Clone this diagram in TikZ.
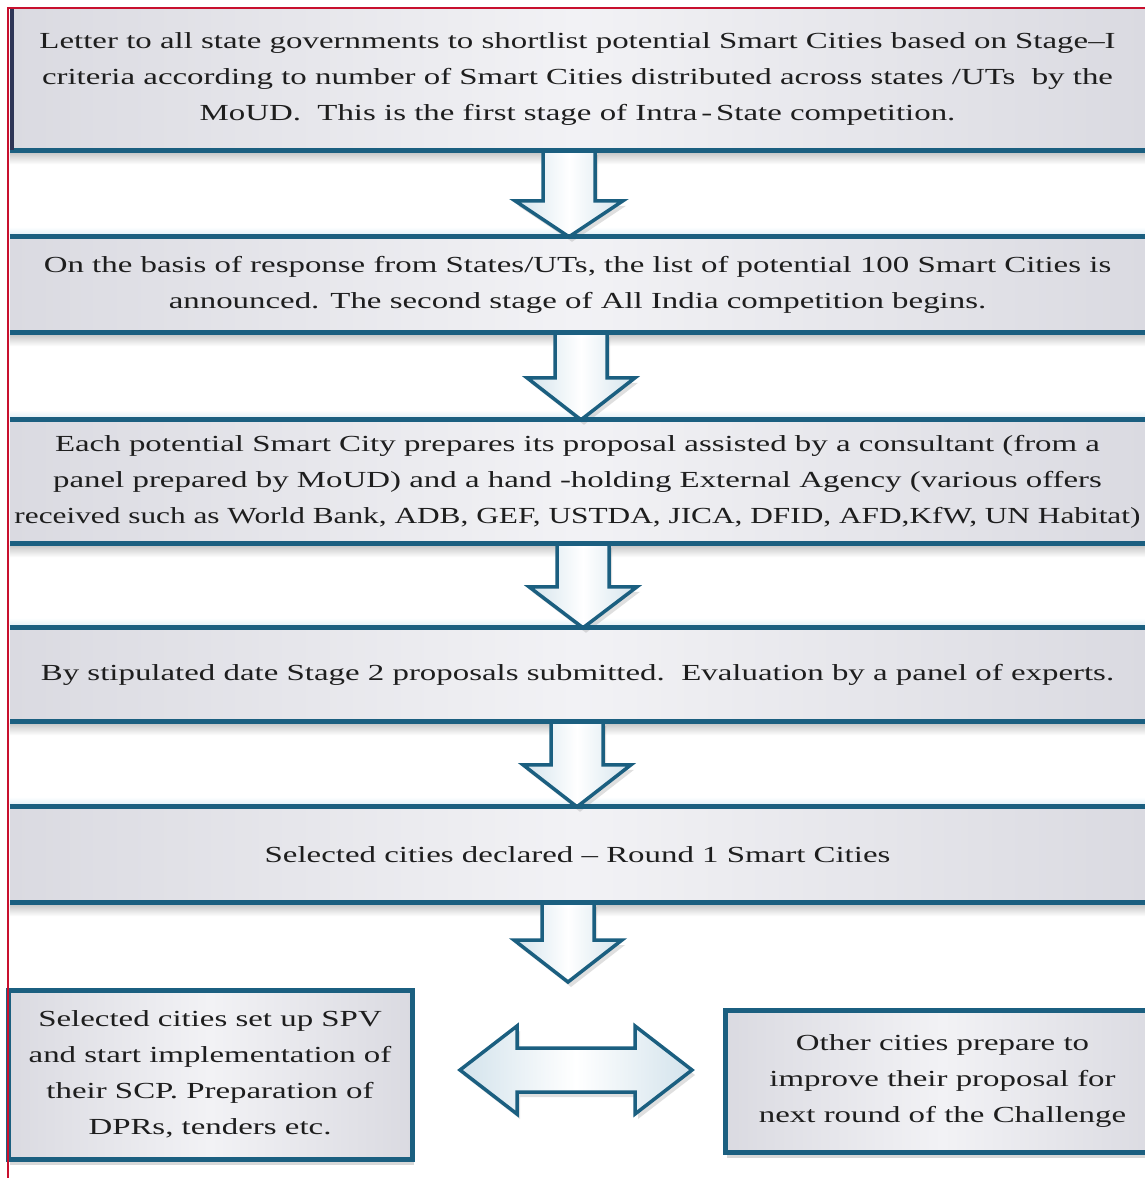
\documentclass[tikz,border=0pt]{standalone}
\usepackage{graphicx}
\usepackage{fontspec}
\setmainfont[FakeStretch=1.43]{Liberation Serif}
\usetikzlibrary{calc,shadows}
\definecolor{teal1}{HTML}{1B5F80}
\definecolor{redline}{HTML}{C8102E}
\definecolor{boxedge}{HTML}{DADAE1}
\definecolor{boxmid}{HTML}{F2F2F5}
\definecolor{txt}{HTML}{1E1E1E}
\definecolor{arrowedge}{HTML}{D3E3EC}
\definecolor{navy}{HTML}{2E3556}
\definecolor{glowblue}{HTML}{E2F0F7}
\tikzset{
  stagebox/.style={rectangle, inner sep=0pt, minimum width=1135pt,
    left color=boxedge, right color=boxedge, middle color=boxmid,
    text=txt, align=center, font=\fontsize{23}{36}\selectfont},
  sidebox/.style={stagebox, draw=teal1, line width=5pt,
    drop shadow={opacity=0.3, shadow xshift=2pt, shadow yshift=-6pt}},
  boxline/.style={teal1, line width=5pt},
  arrowbody/.style={left color=arrowedge, right color=arrowedge, middle color=white,
    drop shadow={opacity=0.25, shadow xshift=3pt, shadow yshift=-5pt}},
  arrowline/.style={teal1, line width=3.5pt, line join=miter},
  underglow/.style={top color=gray!45, bottom color=white},
  overglow/.style={top color=white, bottom color=glowblue},
}
\newcommand\blockdown[3]{% #1 start coordinate, #2 tip coordinate, #3 head length
  \path[arrowbody] ($(#1)+(-26,0)$) -- ($(#2)+(-26,-#3)$) -- ($(#2)+(-54,-#3)$) -- (#2)
    -- ($(#2)+(54,-#3)$) -- ($(#2)+(26,-#3)$) -- ($(#1)+(26,0)$) -- cycle;
  \draw[arrowline] ($(#1)+(-26,0)$) -- ($(#2)+(-26,-#3)$) -- ($(#2)+(-54,-#3)$) -- (#2)
    -- ($(#2)+(54,-#3)$) -- ($(#2)+(26,-#3)$) -- ($(#1)+(26,0)$);
}
\begin{document}
\begin{tikzpicture}[x=1pt,y=-1pt]
\useasboundingbox[fill=white] (0,0) rectangle (1145,1178);

% stage boxes
\node[stagebox, minimum height=142pt] (b1) at (577.5,79)
  {Letter to all state governments to shortlist potential Smart Cities based on Stage–I\\
   criteria according to number of Smart Cities distributed across states /UTs\ \ by the\\
   MoUD.\ \ This is the first stage of Intra\,-\,State competition.};
\node[stagebox, minimum height=95pt] (b2) at (577.5,284.5)
  {On the basis of response from States/UTs, the list of potential 100 Smart Cities is\\
   announced. The second stage of All India competition begins.};
\node[stagebox, minimum height=123pt] (b3) at (577.5,481.5)
  {Each potential Smart City prepares its proposal assisted by a consultant (from a\\
   panel prepared by MoUD) and a hand -holding External Agency (various offers\\
   \makebox[1100pt]{\scalebox{0.952}[1]{received such as World Bank, ADB, GEF, USTDA, JICA, DFID, AFD,KfW, UN Habitat)}}};
\node[stagebox, minimum height=93pt] (b4) at (577.5,674.5)
  {By stipulated date Stage 2 proposals submitted.\ \ Evaluation by a panel of experts.};
\node[stagebox, minimum height=95pt] (b5) at (577.5,854.5)
  {Selected cities declared – Round 1 Smart Cities};
\node[sidebox, minimum width=404pt, minimum height=169pt] (b6) at (210,1074.5)
  {Selected cities set up SPV\\and start implementation of\\their SCP. Preparation of\\DPRs, tenders etc.};
\node[sidebox, minimum width=435pt, minimum height=142pt] (b7) at (942.5,1081)
  {Other cities prepare to\\improve their proposal for\\next round of the Challenge};

% shadows under and glow over the band lines
\foreach \b in {b1,b2,b3,b4,b5}{
  \shade[underglow] ($(\b.south west)+(0,2)$) rectangle ($(\b.south east)+(10,14)$);
}
\foreach \b in {b2,b3,b4,b5}{
  \shade[overglow] ($(\b.north west)+(0,-10)$) rectangle ($(\b.north east)+(10,-2)$);
}

% arrows between the stages
\coordinate (a1s) at ($(b1.south)+(-8.5,0)$);  \coordinate (a1t) at ($(b2.north)+(-8.5,0)$);
\coordinate (a2s) at ($(b2.south)+(3.5,0)$);   \coordinate (a2t) at ($(b3.north)+(3.5,0)$);
\coordinate (a3s) at ($(b3.south)+(5.5,0)$);   \coordinate (a3t) at ($(b4.north)+(5.5,0)$);
\coordinate (a4s) at ($(b4.south)+(-0.5,0)$);  \coordinate (a4t) at ($(b5.north)+(-0.5,0)$);
\coordinate (a5s) at ($(b5.south)+(-9.5,0)$);  \coordinate (a5t) at (568,982);
\blockdown{a1s}{a1t}{36}
\blockdown{a2s}{a2t}{42}
\blockdown{a3s}{a3t}{41}
\blockdown{a4s}{a4t}{42}
\blockdown{a5s}{a5t}{42}

% band lines
\foreach \b in {b2,b3,b4,b5}{
  \draw[boxline] ($(\b.north west)$) -- ($(\b.north east)+(10,0)$);
}
\foreach \b in {b1,b2,b3,b4,b5}{
  \draw[boxline] ($(\b.south west)$) -- ($(\b.south east)+(10,0)$);
}
\draw[navy, line width=4pt] ($(b1.north west)+(2,0)$) -- ($(b1.south west)+(2,0)$);

% double arrow between the last two boxes
\coordinate (dl) at (460,1070);
\coordinate (dr) at (692,1070);
\path[arrowbody] (dl) -- ($(dl)+(57,-44)$) -- ($(dl)+(57,-22)$) -- ($(dr)+(-57,-22)$)
  -- ($(dr)+(-57,-44)$) -- (dr) -- ($(dr)+(-57,44)$) -- ($(dr)+(-57,22)$)
  -- ($(dl)+(57,22)$) -- ($(dl)+(57,44)$) -- cycle;
\draw[arrowline] (dl) -- ($(dl)+(57,-44)$) -- ($(dl)+(57,-22)$) -- ($(dr)+(-57,-22)$)
  -- ($(dr)+(-57,-44)$) -- (dr) -- ($(dr)+(-57,44)$) -- ($(dr)+(-57,22)$)
  -- ($(dl)+(57,22)$) -- ($(dl)+(57,44)$) -- cycle;

% red frame lines
\coordinate (rtl) at (8,8);
\coordinate (rtr) at (1145,8);
\coordinate (rbl) at (8,1178);
\draw[redline, line width=2pt] (rtr) -- (rtl) -- (rbl);
\end{tikzpicture}
\end{document}
